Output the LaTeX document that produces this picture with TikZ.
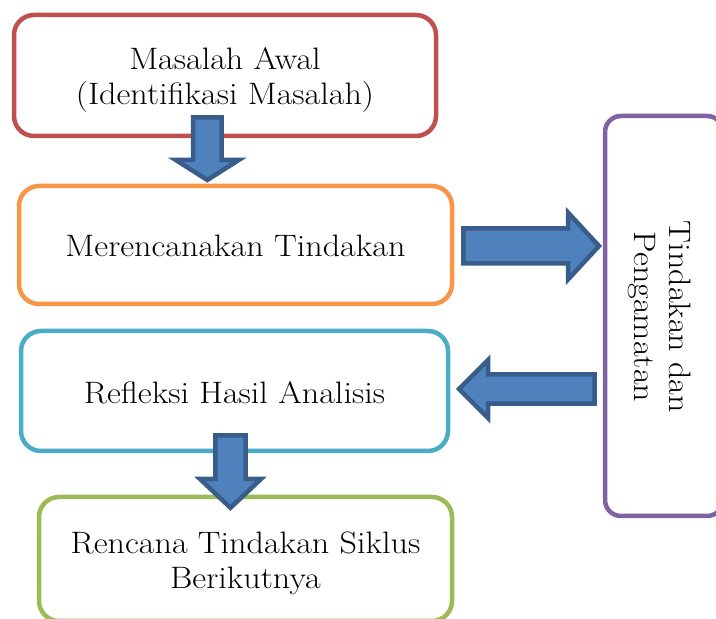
\documentclass[tikz,border=0pt]{standalone}
\usepackage{fontspec}
\setmainfont{Latin Modern Roman}[FakeStretch=1.1]
\usepackage{xcolor}
\usepackage{tikz}
\usetikzlibrary{positioning}
\definecolor{awalcolor}{RGB}{192,80,77}
\definecolor{rencanacolor}{RGB}{247,150,70}
\definecolor{refleksicolor}{RGB}{75,172,198}
\definecolor{sikluscolor}{RGB}{155,187,89}
\definecolor{tindakancolor}{RGB}{128,100,162}
\definecolor{arrowfill}{RGB}{79,129,189}
\definecolor{arrowline}{RGB}{56,93,138}

\begin{document}
\begin{tikzpicture}[
    x=1pt, y=1pt,
    stage/.style={draw, line width=4.5pt, rounded corners=20pt, fill=white, align=center, inner sep=0pt},
    label/.style={align=center, font=\fontsize{31}{35}\selectfont},
    blockarrow/.style={draw=arrowline, fill=arrowfill, line width=4.5pt, miter limit=10}
]
    \path[use as bounding box, clip] (0,0) rectangle (716,619);

    % Left column
    \node[stage, draw=awalcolor, minimum width=422pt, minimum height=121pt] (awal) at (225,543.5) {};
    \node[label] (awaltext) at (225,539) {Masalah Awal\\(Identifikasi Masalah)};
    \node[stage, draw=rencanacolor, minimum width=433pt, minimum height=118pt] (rencana) at (235.5,374) {};
    \node[label] (rencanatext) at (235.5,373) {Merencanakan Tindakan};
    \node[stage, draw=refleksicolor, minimum width=427pt, minimum height=120pt] (refleksi) at (234.5,228) {};
    \node[label] (refleksitext) at (234.5,226) {Refleksi Hasil Analisis};
    \node[stage, draw=sikluscolor, minimum width=413pt, minimum height=124pt] (siklus) at (245.5,60) {};
    \node[label] (siklustext) at (245.5,56) {Rencana Tindakan Siklus\\Berikutnya};

    % Right column
    \node[stage, draw=tindakancolor, rounded corners=16pt, minimum width=118pt, minimum height=400pt] (tindakan) at (664,303) {};
    \node[label, rotate=-90] (tindakantext) at (660,302) {Tindakan dan\\Pengamatan};

    % Block arrows
    \draw[blockarrow] (193.2,501.7) -- (221.5,501.7) -- (221.5,459) -- (238.8,459) -- (207.3,439) -- (175.8,459) -- (193.2,459) -- cycle;
    \draw[blockarrow] (463.3,390.5) -- (568,390.5) -- (568,406.5) -- (599,373) -- (568,339.5) -- (568,355.5) -- (463.3,355.5) -- cycle;
    \draw[blockarrow] (594.7,244.7) -- (488,244.7) -- (488,259) -- (459,230) -- (488,201) -- (488,215.3) -- (594.7,215.3) -- cycle;
    \draw[blockarrow] (215.3,183.7) -- (245.7,183.7) -- (245.7,140) -- (261,140) -- (230.5,111.2) -- (200,140) -- (215.3,140) -- cycle;
\end{tikzpicture}
\end{document}
